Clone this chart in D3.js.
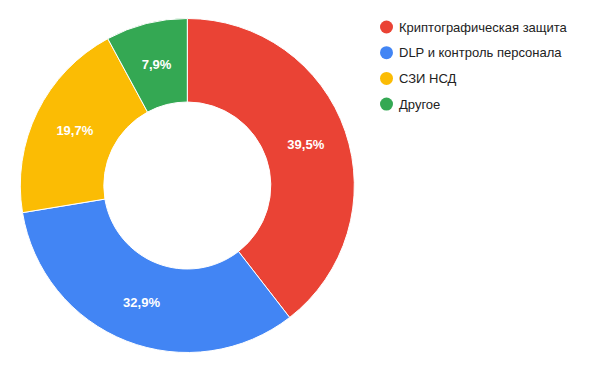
<!DOCTYPE html>
<html>
<head>
<meta charset="utf-8">
<script src="https://cdn.jsdelivr.net/npm/d3@7"></script>
<style>
  body { margin: 0; background: #fff; }
  text { font-family: Arial, "Liberation Sans", sans-serif; }
</style>
</head>
<body>
<svg id="chart"></svg>
<script>
const categories = ["Криптографическая защита", "DLP и контроль персонала", "СЗИ НСД", "Другое"];
const values = [39.5, 32.9, 19.7, 7.9];
const colors = ["#ea4335", "#4285f4", "#fbbc04", "#34a853"];

const width = 600;
const height = 371;
const cx = 187.3;
const cy = 185.5;
const outerR = 167;
const innerR = 83.5;

const svg = d3.select("#chart")
  .attr("width", width)
  .attr("height", height)
  .attr("viewBox", `0 0 ${width} ${height}`);

const data = categories.map((name, i) => ({ name, value: values[i], color: colors[i] }));

const pie = d3.pie().value((d) => d.value).sort(null);
const arc = d3.arc().innerRadius(innerR).outerRadius(outerR);
const labelArc = d3.arc().innerRadius((innerR + outerR) / 2).outerRadius((innerR + outerR) / 2);

const g = svg.append("g").attr("transform", `translate(${cx},${cy})`);
const arcs = pie(data);

g.selectAll("path")
  .data(arcs)
  .join("path")
  .attr("d", arc)
  .attr("fill", (d) => d.data.color)
  .attr("stroke", "#fff")
  .attr("stroke-width", 1);

const fmt = (v) => v.toFixed(1).replace(".", ",") + "%";

g.selectAll("text")
  .data(arcs)
  .join("text")
  .attr("transform", (d) => `translate(${labelArc.centroid(d)})`)
  .attr("text-anchor", "middle")
  .attr("dy", "0.35em")
  .attr("fill", "#fff")
  .attr("font-size", 13)
  .attr("font-weight", "bold")
  .text((d) => fmt(d.data.value));

// legend
const legend = svg.append("g").attr("transform", "translate(386.5,27)");
const row = legend.selectAll("g")
  .data(data)
  .join("g")
  .attr("transform", (d, i) => `translate(0,${i * 25.7})`);

row.append("circle")
  .attr("r", 6.5)
  .attr("fill", (d) => d.color);

row.append("text")
  .attr("x", 12.5)
  .attr("dy", "0.35em")
  .attr("fill", "#222")
  .attr("font-size", 13)
  .text((d) => d.name);
</script>
</body>
</html>
